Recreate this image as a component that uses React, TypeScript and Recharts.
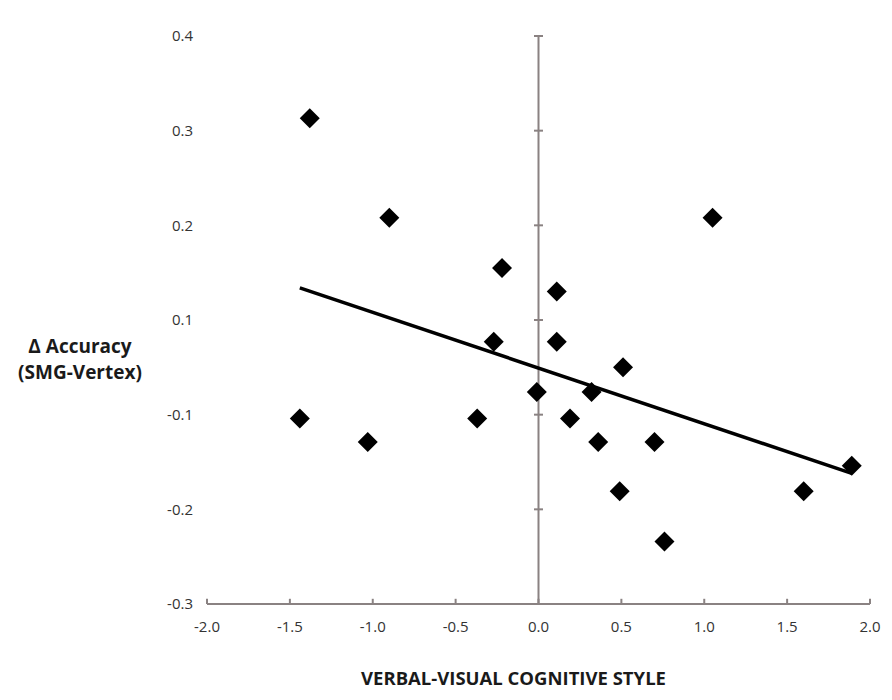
import {
  ScatterChart,
  Scatter,
  XAxis,
  YAxis,
  ReferenceLine,
  Label,
} from 'recharts'

// cognitive style score (x) vs accuracy change (y)
const styleScores = [
  -1.38, -0.9, -0.22, 1.05, 0.11, -0.27, 0.11, 0.51, -0.01, 0.32,
  -1.44, -0.37, 0.19, -1.03, 0.36, 0.7, 0.49, 1.6, 0.76, 1.89,
]
// y values are in the axis' drawn (linear) position; the printed labels skip 0
const accuracyDelta = [
  0.313, 0.208, 0.155, 0.208, 0.13, 0.077, 0.077, 0.05, 0.024, 0.024,
  -0.004, -0.004, -0.004, -0.029, -0.029, -0.029, -0.081, -0.081, -0.134, -0.054,
]

const trendX = [-1.44, 1.89]
const trendY = [0.134, -0.062]

const xTicks = [-2, -1.5, -1, -0.5, 0, 0.5, 1, 1.5, 2]
const yTicks = [-0.2, -0.1, 0, 0.1, 0.2, 0.3, 0.4]
const yTickLabels = ['-0.3', '-0.2', '-0.1', '0.1', '0.2', '0.3', '0.4']

const points = styleScores.map((x, i) => ({ x, y: accuracyDelta[i] }))

const AXIS = '#8a8282'
const FONT = '"Open Sans", sans-serif'

function Diamond(props: any) {
  const { cx, cy } = props
  if (cx == null || cy == null) return null
  const r = 10
  return (
    <path
      d={`M${cx},${cy - r}L${cx + r},${cy}L${cx},${cy + r}L${cx - r},${cy}Z`}
      fill="#000"
    />
  )
}

export default function App() {
  return (
    <div style={{ width: 876, height: 684 }}>
      <ScatterChart
        width={876}
        height={684}
        margin={{ top: 28, right: 14, bottom: 0, left: 0 }}
      >
        <XAxis
          type="number"
          dataKey="x"
          domain={[-2, 2]}
          ticks={xTicks}
          allowDataOverflow
          height={88}
          tickFormatter={(v: number) => v.toFixed(1)}
          tick={{ fill: '#333', fontSize: 15, fontFamily: FONT }}
          tickLine={false}
          tickMargin={11}
          axisLine={{ stroke: AXIS, strokeWidth: 2 }}
        >
          <Label
            content={({ viewBox }: any) => (
              <text
                x={viewBox.x + viewBox.width / 2 - 25}
                y={viewBox.y + 81}
                textAnchor="middle"
                fontFamily={FONT}
                fontWeight={700}
                fontSize={18.5}
                fill="#1a1a1a"
              >
                VERBAL-VISUAL COGNITIVE STYLE
              </text>
            )}
          />
        </XAxis>
        <YAxis
          type="number"
          dataKey="y"
          domain={[-0.2, 0.4]}
          ticks={yTicks}
          allowDataOverflow
          width={199}
          tickFormatter={(v: number) => yTickLabels[yTicks.indexOf(Math.round(v * 10) / 10)] ?? ''}
          tick={{ fill: '#333', fontSize: 15, fontFamily: FONT }}
          tickLine={false}
          tickMargin={8}
          axisLine={false}
        >
          <Label
            content={({ viewBox }: any) => (
              <text
                x={viewBox.x + 72}
                textAnchor="middle"
                fontFamily={FONT}
                fontWeight={700}
                fontSize={19}
                fill="#1a1a1a"
              >
                <tspan x={viewBox.x + 72} y={viewBox.y + 317}>Δ Accuracy</tspan>
                <tspan x={viewBox.x + 72} y={viewBox.y + 343}>(SMG-Vertex)</tspan>
              </text>
            )}
          />
        </YAxis>

        {/* vertical axis through x = 0 with crossing tick marks */}
        <ReferenceLine x={0} stroke={AXIS} strokeWidth={2} />
        {yTicks.map((t) => (
          <ReferenceLine
            key={'yt' + t}
            segment={[
              { x: -0.027, y: t },
              { x: 0.027, y: t },
            ]}
            stroke={AXIS}
            strokeWidth={2}
          />
        ))}
        {xTicks.map((t) => (
          <ReferenceLine
            key={'xt' + t}
            segment={[
              { x: t, y: -0.2 },
              { x: t, y: -0.1945 },
            ]}
            stroke={AXIS}
            strokeWidth={2}
          />
        ))}

        <ReferenceLine
          segment={[
            { x: trendX[0], y: trendY[0] },
            { x: trendX[1], y: trendY[1] },
          ]}
          stroke="#000"
          strokeWidth={3.5}
        />

        <Scatter data={points} shape={<Diamond />} isAnimationActive={false} />
      </ScatterChart>
    </div>
  )
}
